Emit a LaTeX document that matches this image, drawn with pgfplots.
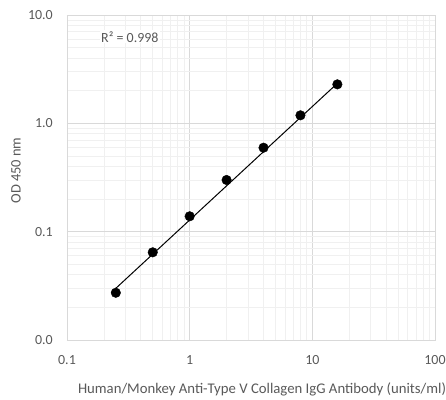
\documentclass[border=0pt]{standalone}
\usepackage{pgfplots}
\pgfplotsset{compat=1.18}
\usepackage{fontspec}
\setmainfont{Carlito}
\definecolor{txt}{HTML}{595959}
\definecolor{majg}{HTML}{D9D9D9}
\definecolor{ming}{HTML}{F0F0F0}
\begin{document}
\begin{tikzpicture}[x=1bp,y=1bp]
\useasboundingbox (0,0) rectangle (446,399);
\begin{axis}[
  at={(67bp,59bp)}, anchor=south west,
  scale only axis, width=368bp, height=325bp,
  xmode=log, ymode=log,
  xmin=0.1, xmax=100, ymin=0.01, ymax=10,
  xtick={0.1,1,10,100}, xticklabels={0.1,1,10,100},
  ytick={0.01,0.1,1,10}, yticklabels={0.0,0.1,1.0,10.0},
  major tick length=0pt, minor tick length=0pt,
  grid=both,
  major grid style={majg, line width=0.75bp},
  minor grid style={ming, line width=0.75bp},
  axis line style={majg, line width=0.75bp},
  tick label style={font=\fontsize{14}{17}\selectfont, text=txt},
  xticklabel style={anchor=base, inner sep=0pt, yshift=-24.5bp},
  yticklabel style={anchor=east, inner sep=0pt, xshift=-14bp},
  xlabel={Human/Monkey Anti-Type V Collagen IgG Antibody (units/ml)},
  ylabel={OD 450 nm},
  every axis x label/.style={at={(rel axis cs:0.53,0)}, anchor=base, inner sep=0pt, yshift=-53.3bp, font=\fontsize{14.8}{17}\selectfont, text=txt},
  every axis y label/.style={at={(rel axis cs:0,0.5215)}, rotate=90, anchor=base, inner sep=0pt, yshift=46.3bp, font=\fontsize{14.5}{17}\selectfont, text=txt},
  clip=false,
]
\addplot[black, line width=1bp, no markers] coordinates {(0.25,0.030) (16,2.34)};
\addplot[only marks, mark=*, mark size=4.8bp, black] coordinates {
  (0.25,0.0273) (0.5,0.0645) (1,0.1387) (2,0.300) (4,0.596) (8,1.186) (16,2.29)};
\node[fill=white, anchor=west, inner sep=1pt, font=\fontsize{14}{17}\selectfont, text=txt] at (rel axis cs:0.0897,0.933) {R² = 0.998};
\end{axis}
\end{tikzpicture}
\end{document}
